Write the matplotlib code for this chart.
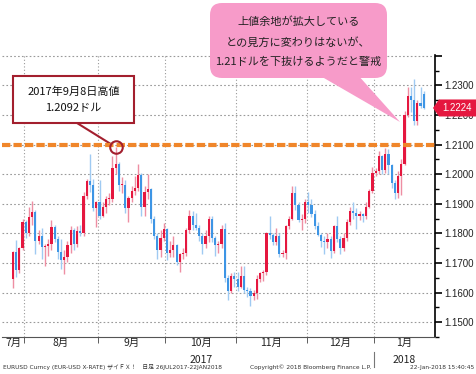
import numpy as np
import pandas as pd
import matplotlib
matplotlib.use("Agg")
import matplotlib.pyplot as plt
from matplotlib.patches import FancyBboxPatch, Polygon, Rectangle
from matplotlib.transforms import Affine2D

# ----------------------------------------------------------------------
# EUR/USD daily candles, 26 Jul 2017 - 22 Jan 2018
# ----------------------------------------------------------------------
dates = pd.bdate_range("2017-07-26", "2018-01-22")

opens = [
    1.1645, 1.1738, 1.1677, 1.1750,
    1.1840, 1.1802, 1.1857, 1.1871, 1.1773, 1.1792, 1.1753, 1.1758, 1.1765, 1.1822, 1.1780, 1.1737,
    1.1710, 1.1722, 1.1760, 1.1812, 1.1763, 1.1808, 1.1800, 1.1925, 1.1978, 1.1965, 1.1887,
    1.1905, 1.1860, 1.1890, 1.1917, 1.1918, 1.2020, 1.2035, 1.1964, 1.1965, 1.1885, 1.1920, 1.1945,
    1.1955, 1.1997, 1.1890, 1.1940, 1.1950, 1.1850, 1.1792, 1.1745, 1.1785,
    1.1815, 1.1733, 1.1743, 1.1760, 1.1705, 1.1730, 1.1735, 1.1810, 1.1860, 1.1830, 1.1820, 1.1790,
    1.1765, 1.1790, 1.1850, 1.1785, 1.1760, 1.1765, 1.1815, 1.1650, 1.1605, 1.1655,
    1.1645, 1.1620, 1.1655, 1.1610, 1.1605, 1.1590, 1.1598, 1.1645, 1.1665, 1.1668, 1.1800, 1.1795,
    1.1770, 1.1790, 1.1730, 1.1735, 1.1825, 1.1850, 1.1935, 1.1895, 1.1845, 1.1848,
    1.1905, 1.1895, 1.1865, 1.1825, 1.1795, 1.1775, 1.1770, 1.1780, 1.1740, 1.1825, 1.1780, 1.1750,
    1.1785, 1.1840, 1.1875, 1.1870, 1.1860, 1.1865, 1.1860, 1.1890, 1.1945,
    1.2005, 1.2010, 1.2060, 1.2015, 1.2070, 1.2030, 1.1970, 1.1935, 1.1995, 1.2035, 1.2200, 1.2265,
    1.2250, 1.2180, 1.2240, 1.2270,
]
highs = [
    1.1742, 1.1777, 1.1755, 1.1848,
    1.1845, 1.1890, 1.1910, 1.1880, 1.1810, 1.1820, 1.1765, 1.1780, 1.1845, 1.1830, 1.1790, 1.1782,
    1.1745, 1.1775, 1.1825, 1.1820, 1.1825, 1.1830, 1.1940, 1.1985, 1.2070, 1.1985, 1.1910,
    1.1980, 1.1905, 1.1925, 1.1935, 1.2060, 1.2092, 1.2040, 1.1990, 1.1980, 1.1925, 1.1960, 1.1995,
    1.2035, 1.2005, 1.1960, 1.2000, 1.1955, 1.1860, 1.1800, 1.1810, 1.1835,
    1.1820, 1.1775, 1.1790, 1.1765, 1.1735, 1.1750, 1.1820, 1.1880, 1.1875, 1.1870, 1.1830, 1.1800,
    1.1810, 1.1860, 1.1860, 1.1790, 1.1775, 1.1830, 1.1835, 1.1660, 1.1665, 1.1670,
    1.1670, 1.1690, 1.1690, 1.1620, 1.1615, 1.1610, 1.1660, 1.1670, 1.1675, 1.1805, 1.1860, 1.1800,
    1.1820, 1.1800, 1.1745, 1.1830, 1.1860, 1.1960, 1.1960, 1.1905, 1.1865, 1.1915,
    1.1940, 1.1915, 1.1880, 1.1840, 1.1800, 1.1790, 1.1800, 1.1790, 1.1830, 1.1860, 1.1790, 1.1800,
    1.1850, 1.1890, 1.1905, 1.1885, 1.1875, 1.1870, 1.1905, 1.1950, 1.2025,
    1.2020, 1.2080, 1.2065, 1.2090, 1.2085, 1.2035, 1.1980, 1.2010, 1.2050, 1.2215, 1.2295, 1.2295,
    1.2323, 1.2250, 1.2296, 1.2280,
]
lows = [
    1.1615, 1.1652, 1.1665, 1.1745,
    1.1785, 1.1790, 1.1830, 1.1730, 1.1765, 1.1715, 1.1690, 1.1725, 1.1745, 1.1770, 1.1715, 1.1680,
    1.1662, 1.1705, 1.1735, 1.1745, 1.1755, 1.1790, 1.1790, 1.1915, 1.1940, 1.1875, 1.1823,
    1.1850, 1.1855, 1.1870, 1.1895, 1.1905, 1.2000, 1.1945, 1.1935, 1.1870, 1.1838, 1.1905, 1.1930,
    1.1945, 1.1860, 1.1860, 1.1915, 1.1835, 1.1780, 1.1715, 1.1720, 1.1775,
    1.1710, 1.1720, 1.1720, 1.1695, 1.1670, 1.1715, 1.1725, 1.1800, 1.1810, 1.1810, 1.1775, 1.1730,
    1.1750, 1.1770, 1.1770, 1.1725, 1.1735, 1.1750, 1.1635, 1.1575, 1.1600, 1.1620,
    1.1605, 1.1615, 1.1600, 1.1585, 1.1555, 1.1575, 1.1580, 1.1635, 1.1640, 1.1660, 1.1780, 1.1760,
    1.1760, 1.1720, 1.1720, 1.1715, 1.1815, 1.1845, 1.1880, 1.1840, 1.1810, 1.1835,
    1.1870, 1.1855, 1.1815, 1.1790, 1.1755, 1.1730, 1.1750, 1.1718, 1.1735, 1.1770, 1.1730, 1.1740,
    1.1775, 1.1830, 1.1850, 1.1815, 1.1845, 1.1840, 1.1850, 1.1885, 1.1935,
    1.1995, 1.2000, 1.2000, 1.2005, 1.2000, 1.1955, 1.1915, 1.1920, 1.1930, 1.2030, 1.2195, 1.2210,
    1.2165, 1.2165, 1.2225, 1.2220,
]
closes = [
    1.1738, 1.1677, 1.1750, 1.1840,
    1.1802, 1.1857, 1.1871, 1.1773, 1.1792, 1.1753, 1.1758, 1.1765, 1.1822, 1.1780, 1.1737, 1.1710,
    1.1722, 1.1760, 1.1812, 1.1763, 1.1808, 1.1800, 1.1925, 1.1978, 1.1965, 1.1887, 1.1905,
    1.1860, 1.1890, 1.1917, 1.1918, 1.2020, 1.2035, 1.1964, 1.1965, 1.1885, 1.1920, 1.1945, 1.1955,
    1.1997, 1.1890, 1.1940, 1.1950, 1.1850, 1.1792, 1.1745, 1.1785, 1.1815,
    1.1733, 1.1743, 1.1760, 1.1705, 1.1730, 1.1735, 1.1810, 1.1860, 1.1830, 1.1820, 1.1790, 1.1765,
    1.1790, 1.1850, 1.1785, 1.1760, 1.1765, 1.1815, 1.1650, 1.1605, 1.1655, 1.1645,
    1.1620, 1.1655, 1.1610, 1.1605, 1.1590, 1.1598, 1.1645, 1.1665, 1.1668, 1.1800, 1.1795, 1.1770,
    1.1790, 1.1730, 1.1735, 1.1825, 1.1850, 1.1935, 1.1895, 1.1845, 1.1848, 1.1905,
    1.1895, 1.1865, 1.1825, 1.1795, 1.1775, 1.1770, 1.1780, 1.1740, 1.1825, 1.1780, 1.1750, 1.1785,
    1.1840, 1.1875, 1.1870, 1.1860, 1.1865, 1.1860, 1.1890, 1.1945, 1.2005,
    1.2010, 1.2060, 1.2015, 1.2070, 1.2030, 1.1970, 1.1935, 1.1995, 1.2035, 1.2200, 1.2265, 1.2250,
    1.2180, 1.2240, 1.2230, 1.2224,
]

resistance = 1.2100
high_idx = 32  # 2017-09-08, 1.2092
y_ticks = [1.15, 1.16, 1.17, 1.18, 1.19, 1.20, 1.21, 1.22, 1.23, 1.24]

box_lines = ["2017年9月8日高値", "1.2092ドル"]
bubble_lines = ["上値余地が拡大している", "との見方に変わりはないが、", "1.21ドルを下抜けるようだと警戒"]
footer_left = "EURUSD Curncy (EUR-USD X-RATE) ザイＦＸ！   日足 26JUL2017-22JAN2018"
footer_mid = "Copyright© 2018 Bloomberg Finance L.P."
footer_right = "22-Jan-2018 15:40:45"

RED, RED_L = "#e5173f", "#ee8ea3"
BLUE, BLUE_L = "#3d95e5", "#9fcaf2"
DARKRED = "#a31f2e"
ORANGE = "#f0862a"
PINK = "#f79bc9"
JP = ["Noto Sans CJK JP", "DejaVu Sans"]

W, H = 476, 374
fig = plt.figure(figsize=(W / 100, H / 100), dpi=100)
# pixel coords with origin at top-left
PX = Affine2D().scale(0.01, -0.01).translate(0, H / 100) + fig.dpi_scale_trans

ax_l, ax_r, ax_t, ax_b = 2, 435, 55, 337
ax = fig.add_axes([ax_l / W, 1 - ax_b / H, (ax_r - ax_l) / W, (ax_b - ax_t) / H])

o = np.array(opens); h = np.array(highs); lo = np.array(lows); c = np.array(closes)
x = np.arange(len(c))
up = c >= o
ax.vlines(x, lo, h, colors=np.where(up, RED_L, BLUE_L), lw=1, zorder=2)
ax.bar(x, np.maximum(np.abs(c - o), 0.0003), bottom=np.minimum(o, c), width=0.68,
       color=np.where(up, RED, BLUE), lw=0, zorder=3)

ax.axhline(resistance, color=ORANGE, lw=3, dashes=(2, 0.75), zorder=4)

ax.set_xlim(-3.4, 131.5)
ax.set_ylim(1.1481, 1.2403)

# months
months = dates.to_period("M")
bounds = [i - 0.5 for i in range(1, len(dates)) if months[i] != months[i - 1]]
edges = [ax.get_xlim()[0]] + bounds + [ax.get_xlim()[1]]
centers = [(a + b) / 2 for a, b in zip(edges[:-1], edges[1:])]
labels = [f"{m.month}月" for m in months.unique()]
ax.set_xticks(centers)
ax.set_xticklabels(labels, fontfamily=JP, fontsize=7.5, color="#222")
ax.set_xticks(bounds, minor=True)
ax.tick_params(axis="x", which="major", length=0, pad=1)
ax.tick_params(axis="x", which="minor", length=4, color="#444", direction="out")
ax.grid(axis="x", which="minor", color="#999", ls=(0, (1, 2)), lw=0.8)

xt = ax.get_xaxis_transform()
years = [(centers[3], "2017"), (centers[-1], "2018")]
for xc, yr in years:
    ax.text(xc, -0.082, yr, transform=xt, ha="center", va="center", fontsize=7.5,
            family=JP, color="#222")
ax.plot([bounds[-1], bounds[-1]], [-0.052, -0.108], transform=xt, color="#777",
        lw=0.8, clip_on=False)

# y axis on the right
ax.yaxis.tick_right()
ax.set_yticks(y_ticks)
ax.set_yticklabels([f"{v:.4f}" if v < 1.235 else "" for v in y_ticks],
                   fontfamily="Liberation Sans", fontsize=7, color="#222")
ax.set_yticks(np.arange(1.145, 1.2401, 0.01), minor=True)
ax.tick_params(axis="y", which="major", length=5, width=1.2, direction="out", pad=2)
ax.tick_params(axis="y", which="minor", length=3, width=1, direction="out")
ax.grid(axis="y", which="major", color="#999", ls=(0, (1.5, 2)), lw=0.8)

for s in ("left", "top"):
    ax.spines[s].set_visible(False)
ax.spines["right"].set_color("black")
ax.spines["right"].set_linewidth(1.2)
ax.spines["bottom"].set_color("#555")

# high marker + callout box
ax.plot(high_idx, highs[high_idx], "o", ms=9, mfc="none", mec=DARKRED, mew=1.5,
        zorder=6, clip_on=False)
ax.annotate("", xy=(high_idx, highs[high_idx]), xycoords="data", xytext=(77, 123),
            textcoords=PX, arrowprops=dict(arrowstyle="-", color=DARKRED, lw=1.5,
                                           shrinkA=0, shrinkB=4.5))
fig.patches.append(Rectangle((13, 76), 121, 47, transform=PX, fc="white",
                             ec=DARKRED, lw=1.5, zorder=5))
for yy, t in zip((92, 108), box_lines):
    fig.text(73.5, yy, t, transform=PX, ha="center", va="center", fontsize=8,
             family=JP, color="#111", zorder=6)

# pink speech bubble
fig.patches.append(Polygon([(317, 74), (357, 74), (400, 122)], closed=True,
                           transform=PX, fc=PINK, ec="none", zorder=5))
fig.patches.append(FancyBboxPatch((210, 3), 177, 75, boxstyle="round,pad=0,rounding_size=12",
                                  transform=PX, fc=PINK, ec="none", zorder=5))
for yy, t in zip((22, 42, 62), bubble_lines):
    fig.text(298.5, yy, t, transform=PX, ha="center", va="center", fontsize=8,
             family=JP, color="#222", zorder=6)

# last-price flag on the right axis
yc = H - ax.transData.transform((0, closes[-1]))[1]
fig.patches.append(Polygon([(433, yc), (439, yc - 8.5), (476, yc - 8.5), (476, yc + 8.5),
                            (439, yc + 8.5)], closed=True, transform=PX, fc=RED,
                           ec="none", zorder=5))
fig.text(457, yc, f"{closes[-1]:.4f}", transform=PX, ha="center", va="center",
         fontsize=7, family="Liberation Sans", color="white", zorder=6)

# footer
fig.text(3, 367, footer_left, transform=PX, ha="left", va="center", fontsize=4.2,
         family=["DejaVu Sans", "Noto Sans CJK JP"], color="#333")
fig.text(311, 367, footer_mid, transform=PX, ha="center", va="center", fontsize=4.2,
         family="DejaVu Sans", color="#333")
fig.text(474, 367, footer_right, transform=PX, ha="right", va="center", fontsize=4.2,
         family="DejaVu Sans", color="#333")

fig.savefig("out.png", dpi=100)
